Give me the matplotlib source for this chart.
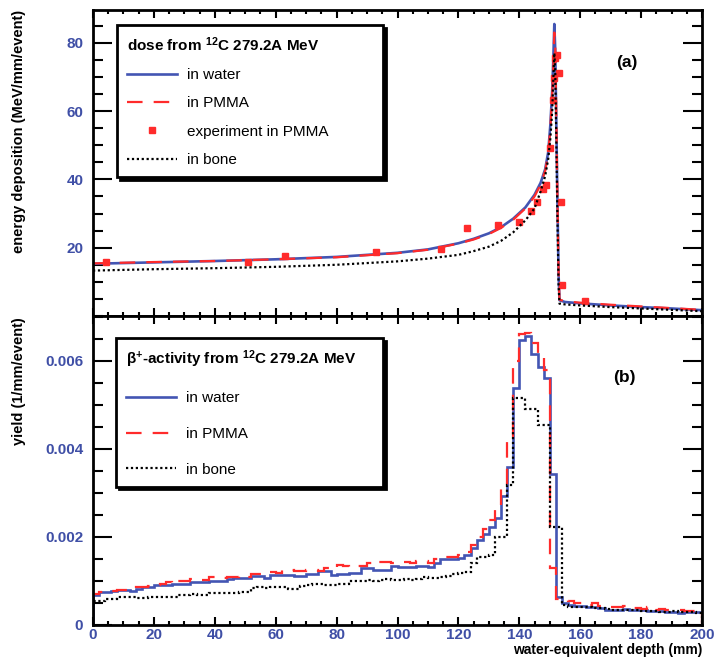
import numpy as np
import matplotlib
matplotlib.use("Agg")
import matplotlib.pyplot as plt
from matplotlib.ticker import MultipleLocator, FuncFormatter

plt.rcParams["font.family"] = ["Liberation Sans", "DejaVu Sans"]
plt.rcParams["mathtext.fontset"] = "custom"
plt.rcParams["mathtext.rm"] = "Liberation Sans"
plt.rcParams["mathtext.bf"] = "Liberation Sans:bold"

# ---- panel (a): dose curves ----
dose_depth = [0, 20, 40, 60, 80, 100, 110, 120, 125, 130, 134, 138, 142, 145, 147,
              148.5, 149.5, 150.2, 150.8, 151.2, 151.5, 151.8, 152.1, 152.5, 152.9,
              153.2, 155, 160, 170, 180, 190, 200]
dose_water = [15.3, 15.7, 16.1, 16.6, 17.3, 18.5, 19.5, 21.3, 22.6, 24.2, 26.0, 28.5,
              31.8, 35.5, 39.0, 43.0, 48.0, 56.0, 66.0, 76.0, 85.5, 78.0, 60.0, 35.0,
              12.0, 4.6, 4.1, 3.7, 3.1, 2.6, 2.2, 1.7]
dose_pmma = [15.4, 15.8, 16.1, 16.6, 17.2, 18.4, 19.4, 21.2, 22.4, 24.0, 25.8, 28.2,
             31.5, 35.0, 38.5, 42.5, 47.5, 55.0, 65.0, 74.0, 83.0, 79.0, 62.0, 36.0,
             13.0, 4.8, 4.3, 3.9, 3.3, 2.8, 2.3, 1.8]
dose_bone = [13.3, 13.7, 14.0, 14.4, 15.0, 16.0, 16.8, 17.9, 19.0, 20.3, 22.0, 24.5,
             28.0, 31.5, 36.5, 41.0, 46.0, 52.0, 60.0, 70.0, 77.0, 72.0, 55.0, 30.0,
             9.0, 3.6, 3.4, 3.1, 2.6, 2.2, 1.8, 1.4]

exp_depth = [4.3, 51, 63, 93, 114.2, 122.9, 133.1, 140, 143.8, 145.7, 147.7, 148.7,
             150.1, 151.0, 151.4, 151.7, 152.3, 153.1, 153.7, 154.1, 161.6]
exp_dose = [15.7, 15.9, 17.7, 18.6, 19.5, 25.8, 26.6, 27.6, 30.8, 33.5, 37.1, 38.4,
            49.1, 63.3, 69.6, 75.4, 76.4, 71.1, 33.3, 9.1, 4.4]

# ---- panel (b): beta+ activity histograms, 2 mm bins ----
bin_edges = np.arange(0, 201, 2)
yield_water = [
    0.00068, 0.00076, 0.00076, 0.00078, 0.00080, 0.00080, 0.00078, 0.00082, 0.00086, 0.00086,
    0.00091, 0.00091, 0.00090, 0.00093, 0.00093, 0.00093, 0.00098, 0.00098, 0.00098, 0.00100,
    0.00101, 0.00101, 0.00104, 0.00106, 0.00106, 0.00106, 0.00111, 0.00111, 0.00106, 0.00114,
    0.00114, 0.00114, 0.00114, 0.00111, 0.00111, 0.00117, 0.00117, 0.00123, 0.00123, 0.00114,
    0.00116, 0.00116, 0.00118, 0.00118, 0.00129, 0.00129, 0.00125, 0.00125, 0.00126, 0.00134,
    0.00131, 0.00131, 0.00131, 0.00133, 0.00133, 0.00131, 0.00140, 0.00149, 0.00149, 0.00149,
    0.00153, 0.00159, 0.00174, 0.00192, 0.00207, 0.00223, 0.00242, 0.00292, 0.00358, 0.00538,
    0.00648, 0.00657, 0.00616, 0.00587, 0.00561, 0.00343, 0.00064, 0.00049, 0.00046, 0.00043,
    0.00043, 0.00041, 0.00040, 0.00039, 0.00035, 0.00033, 0.00035, 0.00036, 0.00035, 0.00033,
    0.00034, 0.00031, 0.00032, 0.00031, 0.00029, 0.00029, 0.00028, 0.00030, 0.00030, 0.00029]
yield_pmma = [
    0.00070, 0.00074, 0.00078, 0.00078, 0.00080, 0.00079, 0.00080, 0.00086, 0.00086, 0.00088,
    0.00092, 0.00094, 0.00098, 0.00094, 0.00100, 0.00100, 0.00104, 0.00102, 0.00102, 0.00110,
    0.00109, 0.00106, 0.00110, 0.00110, 0.00112, 0.00110, 0.00116, 0.00116, 0.00120, 0.00121,
    0.00118, 0.00125, 0.00125, 0.00122, 0.00122, 0.00126, 0.00126, 0.00122, 0.00130, 0.00128,
    0.00136, 0.00133, 0.00132, 0.00135, 0.00135, 0.00140, 0.00138, 0.00142, 0.00142, 0.00140,
    0.00143, 0.00142, 0.00140, 0.00146, 0.00146, 0.00140, 0.00150, 0.00150, 0.00155, 0.00155,
    0.00160, 0.00166, 0.00182, 0.00200, 0.00218, 0.00238, 0.00262, 0.00318, 0.00420, 0.00600,
    0.00660, 0.00664, 0.00640, 0.00610, 0.00580, 0.00130, 0.00058, 0.00056, 0.00055, 0.00050,
    0.00050, 0.00046, 0.00049, 0.00044, 0.00044, 0.00042, 0.00040, 0.00044, 0.00038, 0.00038,
    0.00036, 0.00040, 0.00035, 0.00036, 0.00033, 0.00033, 0.00035, 0.00032, 0.00032, 0.00033]
yield_bone = [
    0.00055, 0.00055, 0.00058, 0.00058, 0.00064, 0.00064, 0.00064, 0.00061, 0.00061, 0.00064,
    0.00064, 0.00064, 0.00064, 0.00064, 0.00068, 0.00068, 0.00070, 0.00068, 0.00068, 0.00073,
    0.00073, 0.00072, 0.00073, 0.00073, 0.00076, 0.00076, 0.00084, 0.00086, 0.00084, 0.00086,
    0.00086, 0.00086, 0.00082, 0.00082, 0.00089, 0.00091, 0.00093, 0.00093, 0.00090, 0.00090,
    0.00093, 0.00093, 0.00099, 0.00099, 0.00100, 0.00102, 0.00100, 0.00102, 0.00104, 0.00102,
    0.00102, 0.00104, 0.00102, 0.00104, 0.00108, 0.00106, 0.00106, 0.00108, 0.00111, 0.00115,
    0.00118, 0.00120, 0.00140, 0.00155, 0.00155, 0.00158, 0.00201, 0.00201, 0.00318, 0.00516,
    0.00516, 0.00490, 0.00490, 0.00455, 0.00455, 0.00223, 0.00223, 0.00045, 0.00042, 0.00042,
    0.00040, 0.00040, 0.00039, 0.00038, 0.00036, 0.00035, 0.00034, 0.00034, 0.00033, 0.00033,
    0.00031, 0.00031, 0.00031, 0.00030, 0.00030, 0.00031, 0.00029, 0.00029, 0.00029, 0.00028]

BLUE = "#4355b3"
RED = "#ff2b2b"
TICK_BLUE = "#3f4fa6"


def style_axes(ax, yminor):
    for s in ax.spines.values():
        s.set_linewidth(2.0)
    ax.set_xlim(0, 200)
    ax.xaxis.set_major_locator(MultipleLocator(20))
    ax.xaxis.set_minor_locator(MultipleLocator(5))
    ax.yaxis.set_minor_locator(MultipleLocator(yminor))
    ax.tick_params(axis="both", which="both", direction="in", top=True, right=True,
                   width=1.5, colors="black", labelcolor=TICK_BLUE, labelsize=11)
    ax.tick_params(axis="x", which="major", length=6, pad=2)
    ax.tick_params(axis="x", which="minor", length=3)
    ax.tick_params(axis="y", which="major", length=14, pad=7)
    ax.tick_params(axis="y", which="minor", length=7)
    for lab in ax.get_xticklabels() + ax.get_yticklabels():
        lab.set_fontweight("bold")


fig = plt.figure(figsize=(7.14, 6.58), dpi=100)
ax1 = fig.add_axes([93 / 714, 1 - 316 / 658, 609 / 714, 306 / 658])
ax2 = fig.add_axes([93 / 714, 1 - 625 / 658, 609 / 714, 309 / 658])

# panel (a)
ax1.plot(dose_depth, dose_water, color=BLUE, lw=1.9, label="in water")
ax1.plot(dose_depth, dose_pmma, color=RED, lw=1.6, ls=(0, (7, 5)), label="in PMMA")
ax1.plot(exp_depth, exp_dose, ls="none", marker="s", ms=5, color=RED, mec=RED,
         label="experiment in PMMA")
ax1.plot(dose_depth, dose_bone, color="black", lw=1.6, ls=(0, (1, 1.2)), label="in bone")
ax1.set_ylim(0, 89.6)
ax1.set_yticks([20, 40, 60, 80])
style_axes(ax1, 5)
ax1.tick_params(axis="x", labelbottom=False)
ax1.text(0.876, 0.83, "(a)", transform=ax1.transAxes, fontsize=12.5, fontweight="bold",
         ha="center", va="center")

leg1 = ax1.legend(loc="upper left", bbox_to_anchor=(24 / 609, 144 / 306, 266 / 609, 147 / 306),
                  mode="expand", borderaxespad=0, fontsize=11, handlelength=3.3,
                  handletextpad=0.6, labelspacing=0.94, borderpad=0.65, numpoints=1,
                  title=r"dose from $\mathbf{^{12}}$C 279.2A MeV", alignment="left",
                  title_fontproperties={"weight": "bold", "size": 11},
                  fancybox=False, shadow={"color": "black", "alpha": 1.0},
                  edgecolor="black", framealpha=1)
leg1.get_frame().set_linewidth(2.0)

# panel (b)
ax2.stairs(yield_water, bin_edges, color=BLUE, lw=1.9, label="in water")
ax2.stairs(yield_pmma, bin_edges, color=RED, lw=1.6, ls=(0, (7, 5)), label="in PMMA")
ax2.stairs(yield_bone, bin_edges, color="black", lw=1.6, ls=(0, (1, 1.2)), label="in bone")
ax2.set_ylim(0, 0.00702)
ax2.set_yticks([0, 0.002, 0.004, 0.006])
ax2.yaxis.set_major_formatter(FuncFormatter(lambda v, p: "0" if v == 0 else f"{v:.3f}"))
style_axes(ax2, 0.0005)
ax2.text(0.873, 0.80, "(b)", transform=ax2.transAxes, fontsize=12.5, fontweight="bold",
         ha="center", va="center")

leg2 = ax2.legend(loc="upper left", bbox_to_anchor=(23 / 609, 142 / 309, 267 / 609, 145 / 309),
                  mode="expand", borderaxespad=0, fontsize=11, handlelength=3.3,
                  handletextpad=0.6, labelspacing=1.42, borderpad=0.65,
                  title=r"$\mathbf{\beta^{+}}$-activity from $\mathbf{^{12}}$C 279.2A MeV",
                  alignment="left", title_fontproperties={"weight": "bold", "size": 11},
                  fancybox=False, shadow={"color": "black", "alpha": 1.0},
                  edgecolor="black", framealpha=1)
leg2.get_frame().set_linewidth(2.0)

# axis titles
fig.text(19 / 714, 1 - 10 / 658, "energy deposition (MeV/mm/event)", rotation=90,
         ha="center", va="top", fontsize=10.5, fontweight="bold")
fig.text(19 / 714, 1 - 317 / 658, "yield (1/mm/event)", rotation=90,
         ha="center", va="top", fontsize=10.5, fontweight="bold")
fig.text(702 / 714, 1 - 650 / 658, "water-equivalent depth (mm)", ha="right", va="center",
         fontsize=10, fontweight="bold")

fig.savefig("out.png", dpi=100)
